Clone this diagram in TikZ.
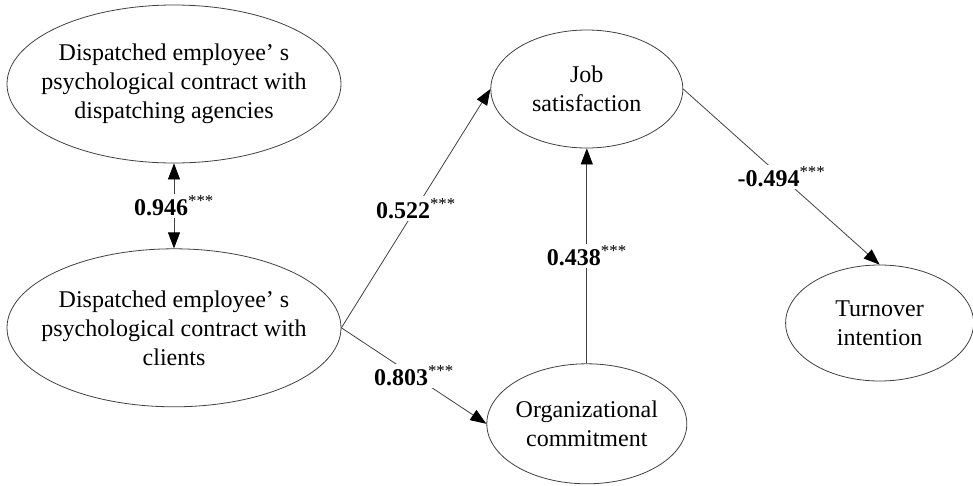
\documentclass[tikz,border=0pt]{standalone}
\usepackage{fontspec}
\setmainfont{Liberation Serif}
\usepackage{tikz}
\usetikzlibrary{shapes.geometric, arrows.meta, positioning}

\begin{document}
\begin{tikzpicture}[
			>={Triangle[length=16pt, width=12pt, color=black]},
			latent/.style={draw=black!75, ellipse, inner sep=0pt, line width=0.8pt},
			teks/.style={align=center, font=\fontsize{24}{29}\selectfont},
			jalur/.style={->, draw=black!75, line width=0.8pt},
			koef/.style={fill=white, inner sep=2pt, font=\fontsize{24}{29}\selectfont}
		]
		\useasboundingbox (0pt,0pt) rectangle (973pt,-485pt);

		% Node Kontrak Psikologis (Kiri)
		\node[latent, minimum width=334pt, minimum height=158pt, label={[teks]center:Dispatched employee' s\\psychological contract with\\dispatching agencies}] (agency) at (174pt,-84pt) {};
		\node[latent, minimum width=334pt, minimum height=158pt, below=85pt of agency, label={[teks]center:Dispatched employee' s\\psychological contract with\\clients}] (client) {};

		% Node Mediator (Tengah)
		\node[latent, minimum width=192pt, minimum height=118pt, right=149pt of agency, yshift=-5pt, label={[teks]center:Job\\satisfaction}] (jobsat) {};
		\node[latent, minimum width=200pt, minimum height=120pt, below=215pt of jobsat, label={[teks]center:Organizational\\commitment}] (orgcom) {};

		% Node Output (Kanan)
		\node[latent, minimum width=188pt, minimum height=116pt, right=102pt of jobsat, yshift=-234pt, label={[teks]center:Turnover\\intention}] (turnover) {};

		% Jalur dengan koefisien
		\draw[jalur, <->] (agency.south) -- node[koef] {\textbf{0.946}\textsuperscript{***}} (client.north);
		\draw[jalur] (client.east) -- node[koef] {\textbf{0.522}\textsuperscript{***}} (jobsat.west);
		\draw[jalur] (client.east) -- node[koef] {\textbf{0.803}\textsuperscript{***}} (orgcom.west);
		\draw[jalur] (orgcom.north) -- node[koef] {\textbf{0.438}\textsuperscript{***}} (jobsat.south);
		\draw[jalur] (jobsat.east) -- node[koef] {\textbf{-0.494}\textsuperscript{***}} (turnover.north);
	\end{tikzpicture}
\end{document}
